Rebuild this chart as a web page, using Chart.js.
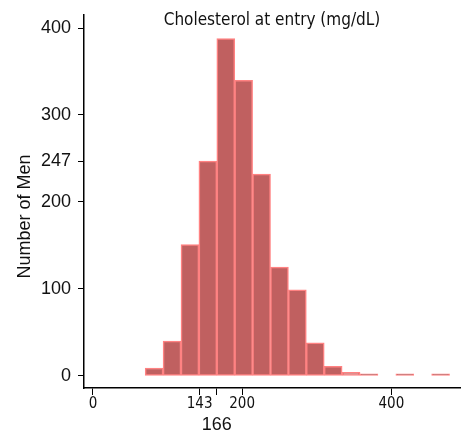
<!DOCTYPE html>
<html>
<head>
<meta charset="utf-8">
<script src="https://cdn.jsdelivr.net/npm/chart.js@4/dist/chart.umd.min.js"></script>
<style>
  html, body { margin: 0; padding: 0; background: #ffffff; }
  #wrap { width: 464px; height: 434px; }
</style>
</head>
<body>
<div id="wrap"><canvas id="c" width="464" height="434"></canvas></div>
<script>
// ---- data ----
const binCenters = [82, 106, 130, 154, 178, 202, 226, 250, 274, 298, 322, 346, 370, 394, 418, 442, 466];
const menCounts  = [9, 40, 151, 247, 388, 340, 232, 125, 99, 38, 11, 4, 1, 0, 1, 0, 1];
const xTickValues = [0, 143, 166, 200, 400];
const yTickValues = [0, 100, 200, 247, 300, 400];
const chartTitle = 'Cholesterol at entry (mg/dL)';
const yAxisTitle = 'Number of Men';

const NARROW = "'DejaVu Sans Condensed', sans-serif";
const SANS = "'Liberation Sans', Arial, sans-serif";

// empty bins draw nothing (null), but keep their x position for the bin width
const points = binCenters.map((x, i) => ({ x: x, y: menCounts[i] === 0 ? null : menCounts[i] }));

new Chart(document.getElementById('c'), {
  type: 'bar',
  data: {
    datasets: [{
      data: points,
      backgroundColor: '#c06060',
      borderColor: '#ff8282',
      borderWidth: 1.5,
      borderSkipped: false,
      barThickness: 'flex',
      minBarLength: 2,
      categoryPercentage: 1,
      barPercentage: 1
    }]
  },
  options: {
    responsive: false,
    animation: false,
    events: [],
    layout: { padding: { left: 0, right: 4, top: 0, bottom: 0 } },
    plugins: {
      legend: { display: false },
      tooltip: { enabled: false },
      title: {
        display: true,
        text: chartTitle,
        fullSize: false,
        color: '#111',
        font: { family: NARROW, size: 17, weight: 'normal', lineHeight: 1 },
        padding: { top: 12, bottom: -14 }
      }
    },
    scales: {
      x: {
        type: 'linear',
        offset: false,
        min: -12,
        max: 492,
        afterBuildTicks: s => { s.ticks = xTickValues.map(v => ({ value: v })); },
        afterFit: s => { s.height = 46; s.paddingLeft = 0; s.paddingRight = 0; },
        grid: { offset: false, drawOnChartArea: false, drawTicks: true, tickLength: 7, color: '#000', lineWidth: 1 },
        border: { display: true, color: '#000', width: 1.5 },
        ticks: {
          autoSkip: false,
          maxRotation: 0,
          minRotation: 0,
          padding: 2,
          color: '#111',
          callback: v => (v === 166 ? ['', String(v)] : String(v)),
          font: ctx => (ctx.tick && ctx.tick.value === 166)
            ? { family: SANS, size: 18, lineHeight: 1.05 }
            : { family: NARROW, size: 15, lineHeight: 1 }
        }
      },
      y: {
        type: 'linear',
        min: -14,
        max: 415,
        afterBuildTicks: s => { s.ticks = yTickValues.map(v => ({ value: v })); },
        afterFit: s => { s.width = 84; s.paddingTop = 0; s.paddingBottom = 0; },
        grid: { drawOnChartArea: false, drawTicks: true, tickLength: 6, color: '#000', lineWidth: 1 },
        border: { display: true, color: '#000', width: 1.5 },
        ticks: {
          autoSkip: false,
          padding: 7,
          color: '#111',
          font: { family: SANS, size: 18, lineHeight: 0.8 }
        },
        title: {
          display: true,
          text: yAxisTitle.padEnd(yAxisTitle.length + 6, ' '),
          color: '#111',
          font: { family: SANS, size: 18, lineHeight: 1.2 },
          padding: { top: 14, bottom: 0 }
        }
      }
    }
  }
});
</script>
</body>
</html>
